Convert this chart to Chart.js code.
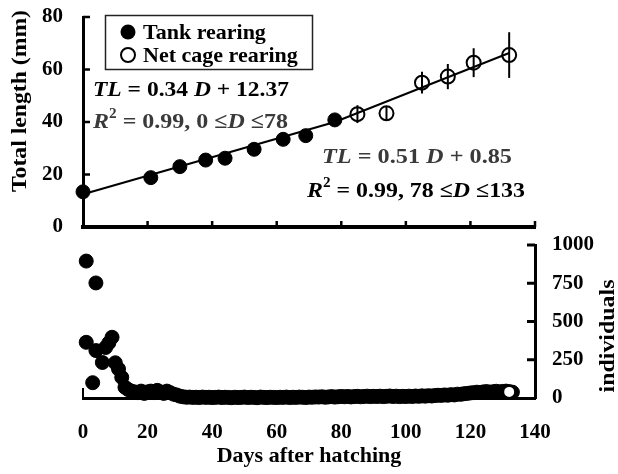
<!DOCTYPE html>
<html><head><meta charset="utf-8">
<script src="https://cdn.jsdelivr.net/npm/chart.js@4"></script>
<style>
html,body{margin:0;padding:0;background:#fff;}
#wrap{position:relative;width:618px;height:474px;background:#fff;overflow:hidden;}
canvas{position:absolute;left:0;}
#c1{top:0;} #c2{top:230px;}
</style></head><body>
<div id="wrap"><canvas id="c2" width="618" height="244"></canvas><canvas id="c1" width="618" height="240"></canvas></div>
<script>
// ---- Top panel: total length ----
const tankDays   = [0, 21, 30, 38, 44, 53, 62, 69, 78];
const tankLength = [13.4, 18.8, 23.0, 25.5, 26.2, 29.6, 33.4, 34.8, 40.8];
const cageDays   = [85, 94, 105, 113, 121, 132];
const cageLength = [43.0, 43.3, 55.0, 57.3, 62.6, 65.5];
const cageSD     = [3.4, 2.8, 4.1, 4.8, 5.5, 8.7];
const fitDays    = [0, 78, 132];
const fitLength  = [12.5, 40.0, 66.3];
const seriesLabels = ['Tank rearing', 'Net cage rearing'];
const yTitleTop  = 'Total length (mm)';
const eq1a = [{t:'TL', it:true}, {t:' = 0.34 '}, {t:'D', it:true}, {t:' + 12.37'}];
const eq1b = [{t:'R', it:true}, {t:'2', sup:true}, {t:' = 0.99, 0 \u2264'}, {t:'D', it:true}, {t:' \u226478'}];
const eq2a = [{t:'TL', it:true}, {t:' = 0.51 '}, {t:'D', it:true}, {t:' + 0.85'}];
const eq2b = [{t:'R', it:true}, {t:'2', sup:true}, {t:' = 0.99, 78 \u2264'}, {t:'D', it:true}, {t:' \u2264133'}];

// ---- Bottom panel: number of individuals ----
const earlyDays   = [1, 1, 3, 4, 4, 6, 7, 8, 9, 10, 11, 12, 13];
const earlyCounts = [895, 364, 100, 752, 310, 232, 330, 360, 397, 230, 190, 135, 70];
const dailyStartDay = 14;
const dailyCounts = [
  55, 45, 40, 35, 45, 30, 40,
  45, 35, 50, 40, 30, 45, 35, 25, 20, 12,
  8, 5, 6, 4, 5, 3, 6, 4, 5, 3,
  4, 6, 3, 5, 4, 2, 5, 3, 4, 6,
  3, 5, 4, 2, 6, 4, 3, 5, 4, 3,
  5, 4, 6, 3, 5, 4, 6, 5, 3, 6,
  5, 7, 6, 8, 5, 7, 9, 6, 8, 10,
  8, 10, 7, 9, 11, 8, 10, 12, 9, 11,
  10, 12, 9, 11, 13, 10, 12, 9, 11, 10,
  12, 10, 13, 11, 14, 12, 15, 13, 16, 18,
  17, 20, 18, 22, 20, 25, 24, 28, 30, 33,
  35, 38, 36, 40, 42, 38, 41, 44, 40, 43,
  45, 42, 38
];
const cageCountDays = [132];
const cageCounts    = [40];
const xTitle = 'Days after hatching';
const yTitleBottom = 'individuals';

const FONT = '"Liberation Serif", "Times New Roman", serif';
Chart.defaults.font.family = FONT;
Chart.defaults.font.weight = 'bold';
Chart.defaults.color = '#000';

function drawRich(ctx, segs, x, y, width, size, color){
  const f = s => `${s.it ? 'italic ' : ''}bold ${s.sup ? Math.round(size*0.62) : size}px ${FONT}`;
  let total = 0;
  segs.forEach(s => { ctx.font = f(s); s.w = ctx.measureText(s.t).width; total += s.w; });
  const k = width / total;
  ctx.save();
  ctx.translate(x, y); ctx.scale(k, 1);
  ctx.fillStyle = color; ctx.textAlign = 'left'; ctx.textBaseline = 'alphabetic';
  let cx = 0;
  segs.forEach(s => { ctx.font = f(s); ctx.fillText(s.t, cx, s.sup ? -size*0.45 : 0); cx += s.w; });
  ctx.restore();
}
function drawRotated(ctx, text, cx, cy, span, size){
  ctx.save();
  ctx.font = `bold ${size}px ${FONT}`;
  const w = ctx.measureText(text).width;
  ctx.translate(cx, cy); ctx.rotate(-Math.PI/2); ctx.scale(span / w, 1);
  ctx.fillStyle = '#000'; ctx.textAlign = 'center'; ctx.textBaseline = 'middle';
  ctx.fillText(text, 0, 0);
  ctx.restore();
}

const topDecor = {
  id: 'topDecor',
  beforeDatasetsDraw(chart){
    const {ctx, scales:{x, y}} = chart;
    ctx.save(); ctx.strokeStyle = '#000'; ctx.lineWidth = 2;
    cageDays.forEach((d, i) => {
      const px = x.getPixelForValue(d);
      ctx.beginPath();
      ctx.moveTo(px, y.getPixelForValue(cageLength[i] - cageSD[i]));
      ctx.lineTo(px, y.getPixelForValue(cageLength[i] + cageSD[i]));
      ctx.stroke();
    });
    ctx.restore();
  },
  afterDraw(chart){
    const {ctx, chartArea:a, scales:{x, y}} = chart;
    ctx.save(); ctx.strokeStyle = '#000';
    ctx.lineWidth = 2.5;
    y.ticks.forEach(t => { if (t.value === 0) return; const py = y.getPixelForValue(t.value);
      ctx.beginPath(); ctx.moveTo(a.left, py); ctx.lineTo(a.left + 7, py); ctx.stroke(); });
    x.ticks.forEach(t => { if (t.value === 0) return; const px = x.getPixelForValue(t.value);
      ctx.beginPath(); ctx.moveTo(px, a.bottom); ctx.lineTo(px, a.bottom - 6); ctx.stroke(); });
    // legend
    ctx.lineWidth = 1.5; ctx.strokeStyle = '#222';
    ctx.fillStyle = '#fff';
    ctx.fillRect(105, 15, 207, 54);
    ctx.strokeRect(105.5, 15.5, 207, 54);
    const ds = chart.data.datasets;
    ctx.fillStyle = '#000'; ctx.strokeStyle = '#000';
    ctx.beginPath(); ctx.arc(128, 32, 7.5, 0, Math.PI*2); ctx.fill();
    ctx.lineWidth = 2;
    ctx.beginPath(); ctx.arc(128, 55, 7, 0, Math.PI*2); ctx.stroke();
    ctx.font = `bold 22px ${FONT}`; ctx.textAlign = 'left'; ctx.textBaseline = 'alphabetic';
    ctx.fillText(ds[0].label, 143, 39);
    ctx.fillText(ds[1].label, 143, 62);
    ctx.restore();
    drawRotated(ctx, yTitleTop, 20, 101, 182, 22);
    drawRich(ctx, eq1a, 93, 96, 196, 22, '#000');
    drawRich(ctx, eq1b, 93, 128, 195, 22, '#3a3a3a');
    drawRich(ctx, eq2a, 322, 163, 190, 22, '#3a3a3a');
    drawRich(ctx, eq2b, 307, 197, 218, 22, '#000');
  }
};

const bottomDecor = {
  id: 'bottomDecor',
  afterDraw(chart){
    const {ctx, chartArea:a, scales:{y}} = chart;
    ctx.save(); ctx.strokeStyle = '#000'; ctx.lineWidth = 3;
    y.ticks.forEach(t => { if (t.value === 0) return; const py = y.getPixelForValue(t.value);
      ctx.beginPath(); ctx.moveTo(a.right, py); ctx.lineTo(a.right - 8, py); ctx.stroke(); });
    ctx.lineWidth = 2;
    ctx.beginPath(); ctx.moveTo(a.left, a.bottom); ctx.lineTo(a.left, a.bottom - 10); ctx.stroke();
    ctx.restore();
    drawRotated(ctx, yTitleBottom, 608, 106, 113, 22);
  }
};

const hiddenTickGrid = (len) => ({ drawOnChartArea: false, drawTicks: true, tickLength: len, tickColor: 'rgba(0,0,0,0)' });

new Chart(document.getElementById('c1'), {
  type: 'scatter',
  data: { datasets: [
    { label: seriesLabels[0], data: tankDays.map((d, i) => ({x: d, y: tankLength[i]})),
      pointRadius: 7, pointBackgroundColor: '#000', pointBorderColor: '#000', pointBorderWidth: 1, order: 1, clip: false },
    { label: seriesLabels[1], data: cageDays.map((d, i) => ({x: d, y: cageLength[i]})),
      pointRadius: 7, pointBackgroundColor: 'rgba(0,0,0,0)', pointBorderColor: '#000', pointBorderWidth: 2, order: 2, clip: false },
    { label: 'fit', data: fitDays.map((d, i) => ({x: d, y: fitLength[i]})), showLine: true,
      borderColor: '#000', borderWidth: 2, pointRadius: 0, order: 3, clip: false }
  ]},
  options: {
    responsive: false, animation: false, devicePixelRatio: 1,
    layout: { padding: { left: 0, right: 83, top: 17, bottom: 0 } },
    plugins: { legend: { display: false }, tooltip: { enabled: false } },
    scales: {
      x: { type: 'linear', min: 0, max: 140, ticks: { display: false, stepSize: 20, padding: 0 },
           grid: { drawOnChartArea: false, drawTicks: false }, border: { color: '#000', width: 4 },
           afterFit(s){ s.height = 13; } },
      y: { min: 0, max: 80, ticks: { stepSize: 20, color: '#000', padding: 0, font: { size: 21, weight: 'bold' } },
           grid: hiddenTickGrid(20), border: { color: '#000', width: 3 },
           afterFit(s){ s.width = 83; } }
    }
  },
  plugins: [topDecor]
});

new Chart(document.getElementById('c2'), {
  type: 'scatter',
  data: { datasets: [
    { label: 'Tank rearing (early)', data: earlyDays.map((d, i) => ({x: d, y: earlyCounts[i]})),
      pointRadius: 7, pointBackgroundColor: '#000', pointBorderColor: '#000', order: 2, clip: false },
    { label: 'Tank rearing (daily)', data: dailyCounts.map((v, i) => ({x: dailyStartDay + i, y: v})),
      pointRadius: 7, pointBackgroundColor: '#000', pointBorderColor: '#000', order: 3, clip: false },
    { label: 'Net cage rearing', data: cageCountDays.map((d, i) => ({x: d, y: cageCounts[i]})),
      pointRadius: 6, pointBackgroundColor: '#fff', pointBorderColor: '#000', pointBorderWidth: 2, order: 1, clip: false }
  ]},
  options: {
    responsive: false, animation: false, devicePixelRatio: 1,
    layout: { padding: { left: 83, right: 0, top: 15, bottom: 0 } },
    plugins: { legend: { display: false }, tooltip: { enabled: false } },
    scales: {
      x: { type: 'linear', min: 0, max: 140,
           ticks: { stepSize: 20, color: '#000', padding: 0, autoSkip: false, maxRotation: 0, font: { size: 21, weight: 'bold' },
                    callback: v => String(v) },
           grid: hiddenTickGrid(22), border: { color: '#000', width: 3 },
           title: { display: true, text: xTitle, color: '#000', font: { size: 22, weight: 'bold' }, padding: { top: 0, bottom: 4 } },
           afterFit(s){ s.height = 76; } },
      y: { position: 'right', min: 0, max: 1000,
           ticks: { stepSize: 250, color: '#000', padding: 0, font: { size: 21, weight: 'bold' }, callback: v => String(v) },
           grid: hiddenTickGrid(17), border: { color: '#000', width: 3 },
           afterFit(s){ s.width = 83; } }
    }
  },
  plugins: [bottomDecor]
});
</script>
</body></html>
